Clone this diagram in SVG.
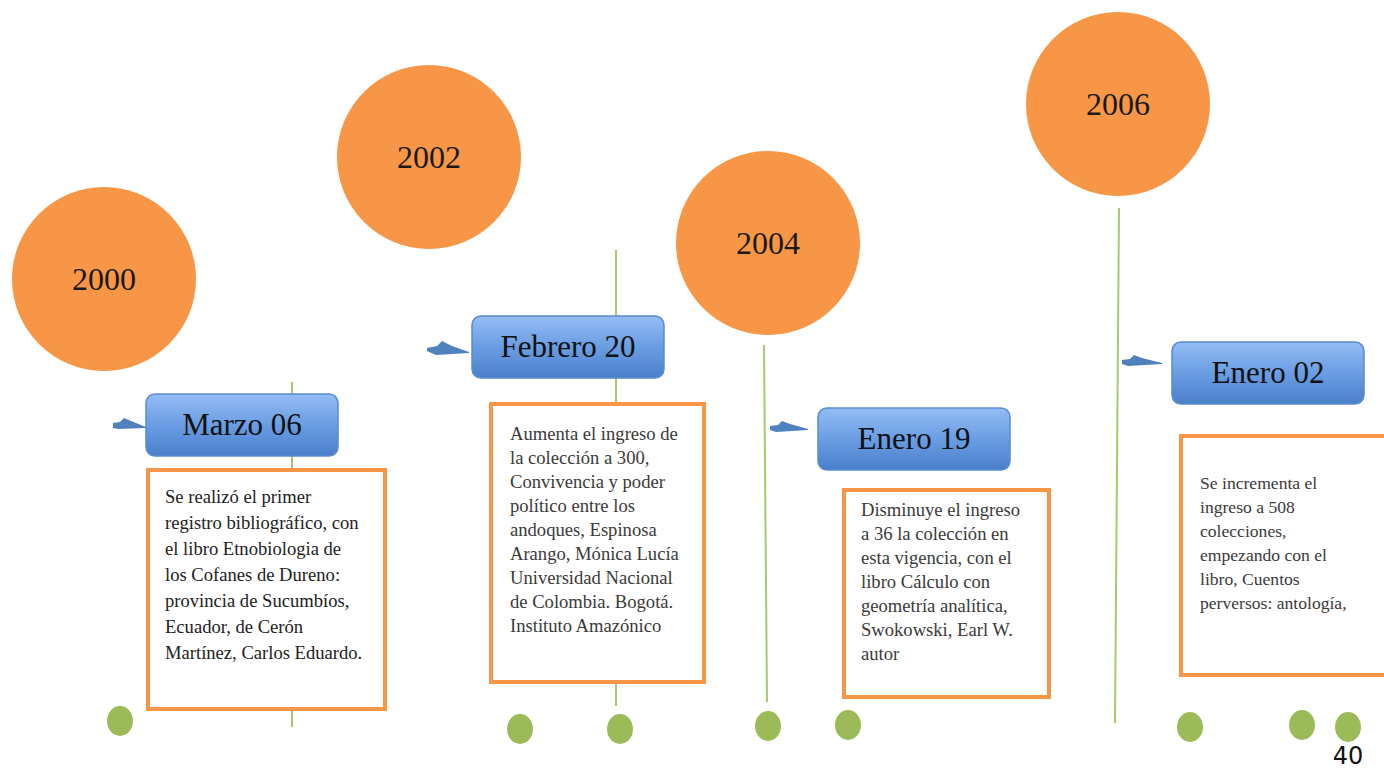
<svg xmlns="http://www.w3.org/2000/svg" width="1384" height="768" viewBox="0 0 1384 768">
<style>
.yr{fill:#f79646}
.yt{font-family:"Liberation Serif",serif;font-size:32px;fill:#1a1a1a;text-anchor:middle}
.dt{font-family:"Liberation Serif",serif;font-size:31px;fill:#111;text-anchor:middle}
.db{fill:url(#bg);stroke:#5a8ad0;stroke-width:1.5}
.ob{fill:#fff;stroke:#f79646;stroke-width:4}
.tx{font-family:"Liberation Serif",serif;font-size:18.6px;fill:#3a3a3a}
.t1{fill:#222}
.t4{font-size:17.6px}
.ln{stroke:#a8c86a;stroke-width:2;fill:none}
.dot{fill:#9bbb59}
.ar{fill:#4f81bd}
</style>
<defs>
<linearGradient id="bg" x1="0" y1="0" x2="0" y2="1">
<stop offset="0" stop-color="#94bdf5"/>
<stop offset="0.5" stop-color="#6a9de3"/>
<stop offset="1" stop-color="#4a7fcb"/>
</linearGradient>
</defs>
<g id="connectors">
<line class="ln" x1="292" y1="382" x2="292" y2="727"/>
<line class="ln" x1="616" y1="250" x2="616" y2="706"/>
<line class="ln" x1="764" y1="345" x2="767" y2="702"/>
<line class="ln" x1="1119" y1="208" x2="1115" y2="723"/>
<polygon class="ar" points="113,423 120,422 124,418 131,421 146,427 146,428 118,429 113,428"/>
<polygon class="ar" points="427,348 437,346 442,341 452,346 469,352 469,353 436,355 427,351"/>
<polygon class="ar" points="770,426 778,425 782,421 790,424 808,429 808,430 776,432 770,430"/>
<polygon class="ar" points="1122,360 1130,359 1134,355 1142,358 1162,363 1162,364 1128,366 1122,364"/>
</g>
<g id="y2000"><circle class="yr" cx="104" cy="279" r="92"/><text class="yt" x="104" y="290">2000</text></g>
<g id="y2002"><circle class="yr" cx="429" cy="157" r="92"/><text class="yt" x="429" y="168">2002</text></g>
<g id="y2004"><circle class="yr" cx="768" cy="243" r="92"/><text class="yt" x="768" y="254">2004</text></g>
<g id="y2006"><circle class="yr" cx="1118" cy="104" r="92"/><text class="yt" x="1118" y="115">2006</text></g>
<g id="d1"><rect class="db" x="146" y="394" width="192" height="62" rx="9"/><text class="dt" x="242" y="435">Marzo 06</text></g>
<g id="d2"><rect class="db" x="472" y="316" width="192" height="62" rx="9"/><text class="dt" x="568" y="357">Febrero 20</text></g>
<g id="d3"><rect class="db" x="818" y="408" width="192" height="62" rx="9"/><text class="dt" x="914" y="449">Enero 19</text></g>
<g id="d4"><rect class="db" x="1172" y="342" width="192" height="62" rx="9"/><text class="dt" x="1268" y="383">Enero 02</text></g>
<g id="b1"><rect class="ob" x="148" y="470" width="237" height="239"/>
<text class="tx t1" x="165" y="503">Se realizó el primer</text>
<text class="tx t1" x="165" y="529">registro bibliográfico, con</text>
<text class="tx t1" x="165" y="555">el libro Etnobiologia de</text>
<text class="tx t1" x="165" y="581">los Cofanes de Dureno:</text>
<text class="tx t1" x="165" y="607">provincia de Sucumbíos,</text>
<text class="tx t1" x="165" y="633">Ecuador, de Cerón</text>
<text class="tx t1" x="165" y="659">Martínez, Carlos Eduardo.</text>
</g>
<g id="b2"><rect class="ob" x="491" y="404" width="213" height="278"/>
<text class="tx" x="510" y="440">Aumenta el ingreso de</text>
<text class="tx" x="510" y="464">la colección a 300,</text>
<text class="tx" x="510" y="488">Convivencia y poder</text>
<text class="tx" x="510" y="512">político entre los</text>
<text class="tx" x="510" y="536">andoques, Espinosa</text>
<text class="tx" x="510" y="560">Arango, Mónica Lucía</text>
<text class="tx" x="510" y="584">Universidad Nacional</text>
<text class="tx" x="510" y="608">de Colombia. Bogotá.</text>
<text class="tx" x="510" y="632">Instituto Amazónico</text>
</g>
<g id="b3"><rect class="ob" x="844" y="490" width="205" height="207"/>
<text class="tx" x="861" y="516">Disminuye el ingreso</text>
<text class="tx" x="861" y="540">a 36 la colección en</text>
<text class="tx" x="861" y="564">esta vigencia, con el</text>
<text class="tx" x="861" y="588">libro Cálculo con</text>
<text class="tx" x="861" y="612">geometría analítica,</text>
<text class="tx" x="861" y="636">Swokowski, Earl W.</text>
<text class="tx" x="861" y="660">autor</text>
</g>
<g id="b4"><rect class="ob" x="1181" y="436" width="210" height="239"/>
<text class="tx t4" x="1200" y="489">Se incrementa el</text>
<text class="tx t4" x="1200" y="513">ingreso a 508</text>
<text class="tx t4" x="1200" y="537">colecciones,</text>
<text class="tx t4" x="1200" y="561">empezando con el</text>
<text class="tx t4" x="1200" y="585">libro, Cuentos</text>
<text class="tx t4" x="1200" y="609">perversos: antología,</text>
</g>
<g id="dots">
<ellipse class="dot" cx="120" cy="721" rx="13" ry="15"/>
<ellipse class="dot" cx="520" cy="729" rx="13" ry="15"/>
<ellipse class="dot" cx="620" cy="729" rx="13" ry="15"/>
<ellipse class="dot" cx="768" cy="726" rx="13" ry="15"/>
<ellipse class="dot" cx="848" cy="725" rx="13" ry="15"/>
<ellipse class="dot" cx="1190" cy="727" rx="13" ry="15"/>
<ellipse class="dot" cx="1302" cy="725" rx="13" ry="15"/>
<ellipse class="dot" cx="1348" cy="727" rx="13" ry="15"/>
</g>
<text x="1348" y="764" font-family="DejaVu Sans, sans-serif" font-size="24" fill="#111" text-anchor="middle">40</text>
</svg>
